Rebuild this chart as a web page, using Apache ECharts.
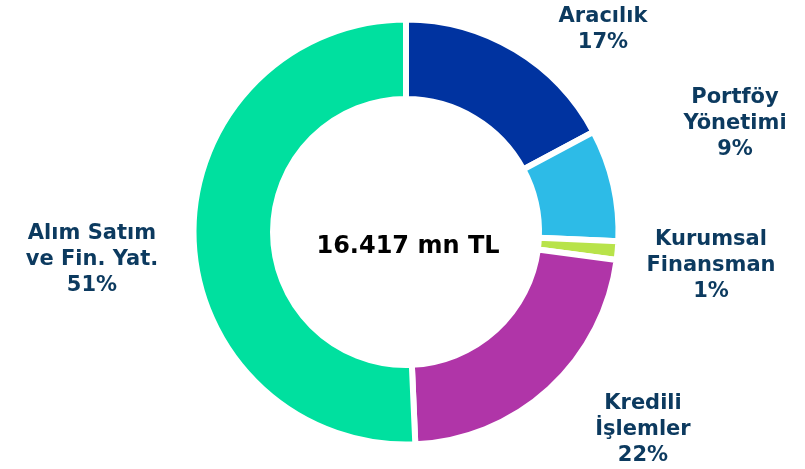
<!DOCTYPE html>
<html>
<head>
<meta charset="utf-8">
<script src="https://cdn.jsdelivr.net/npm/echarts@6/dist/echarts.min.js"></script>
<style>html,body{margin:0;padding:0;background:#fff}#c{width:805px;height:469px}</style>
</head>
<body>
<div id="c"></div>
<script>
const categories = ['Aracılık', 'Portföy\nYönetimi', 'Kurumsal\nFinansman', 'Kredili\nİşlemler', 'Alım Satım\nve Fin. Yat.'];
const values = [17.2, 8.5, 1.4, 22.2, 50.7];
const percentLabels = ['17%', '9%', '1%', '22%', '51%'];
const totalLabel = '16.417 mn TL';

const colors = ['#0033a0', '#2dbbe7', '#b8e34a', '#b035a8', '#00e09f'];
const labelPos = [[603, 30], [735, 124], [711, 266], [643, 430], [92, 260]];

const chart = echarts.init(document.getElementById('c'));
chart.setOption({
  animation: false,
  color: colors,
  graphic: [{
    type: 'text',
    style: {
      x: 408, y: 247, text: totalLabel, textAlign: 'center', textVerticalAlign: 'middle',
      font: 'bold 24px "DejaVu Sans"', fill: '#000'
    }
  }],
  series: [{
    type: 'pie',
    center: [406, 232],
    radius: [133, 212.5],
    startAngle: 90,
    clockwise: true,
    avoidLabelOverlap: false,
    itemStyle: { borderColor: '#fff', borderWidth: 6 },
    data: categories.map((c, i) => ({ name: c, value: values[i] })),
    label: {
      show: true,
      position: 'outside',
      formatter: p => p.name + '\n' + percentLabels[p.dataIndex],
      fontFamily: 'DejaVu Sans',
      fontWeight: 'bold',
      fontSize: 21,
      lineHeight: 26,
      color: '#0c3a5f',
      align: 'center'
    },
    labelLine: { show: false },
    labelLayout: p => ({
      x: labelPos[p.dataIndex][0],
      y: labelPos[p.dataIndex][1],
      align: 'center',
      verticalAlign: 'middle'
    })
  }]
});
</script>
</body>
</html>
